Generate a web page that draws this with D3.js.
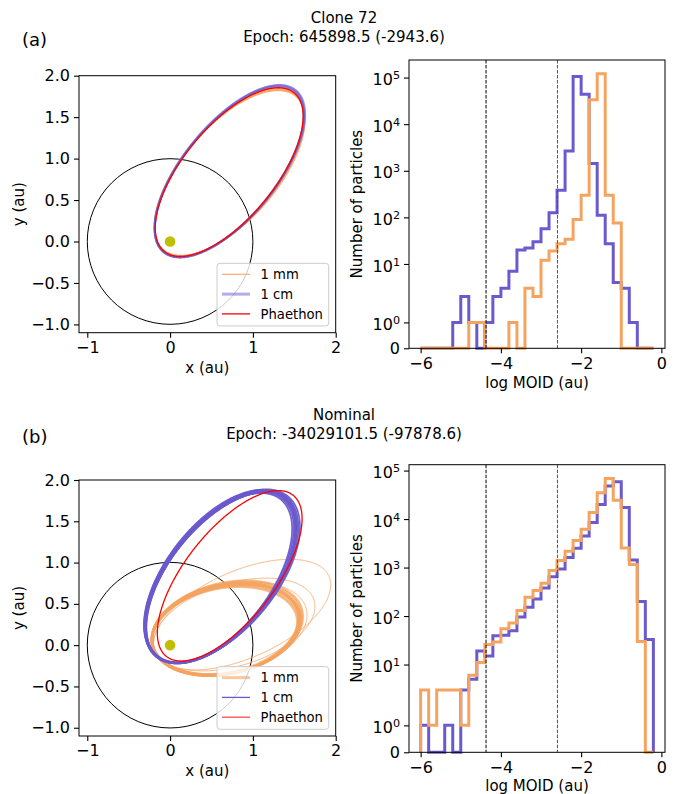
<!DOCTYPE html>
<html><head><meta charset="utf-8">
<script src="https://cdn.jsdelivr.net/npm/d3@7"></script>
<style>
body{margin:0;background:#fff}
svg{display:block}
text{font-family:"DejaVu Sans",sans-serif;fill:#000}
</style>
</head><body>
<svg id="fig" width="681" height="794"></svg>
<script>
// ---------------- DATA ----------------
const panelLabels = ["(a)", "(b)"];
const titleLine1 = ["Clone 72", "Nominal"];
const titleLine2 = ["Epoch: 645898.5 (-2943.6)", "Epoch: -34029101.5 (-97878.6)"];
const seriesNames = ["1 mm", "1 cm", "Phaethon"];

// histogram bin edges (log MOID, au)
const binEdges = [-6.0,-5.8,-5.6,-5.4,-5.2,-5.0,-4.8,-4.6,-4.4,-4.2,-4.0,-3.8,-3.6,-3.4,-3.2,-3.0,-2.8,-2.6,-2.4,-2.2,-2.0,-1.8,-1.6,-1.4,-1.2,-1.0,-0.8,-0.6,-0.4,-0.2];
// counts per bin
const topCounts1mm = [0,0,0,0,0,0,1,1,0,0,0,1,0,3,2,12,19,27,34,90,300,33600,121000,300,76,0,0,0,0];
const topCounts1cm = [0,0,0,0,1,2,1,0,1,2,3,7,20,22,30,57,125,383,2667,106000,44000,1426,111,27,4,3,1,0,0];
const botCounts1mm = [3,1,3,3,3,1,6,11,26,29,55,72,130,245,336,474,865,1390,2160,3600,6200,13600,35000,69000,24500,2520,1150,30,0];
const botCounts1cm = [1,0,0,1,0,3,5,19,15,39,40,50,96,152,226,380,650,936,1620,2500,4500,8500,20000,48000,59000,17300,1430,200,33];
// reference lines (log au): Earth radius, Earth-Moon distance
const refLines = [-4.37, -2.59];

const histXTicks = [-6, -4, -2, 0];
const histYTicks = [0, 1, 10, 100, 1000, 10000, 100000];
const orbitXTicks = [-1, 0, 1, 2];
const orbitYTicks = [-1.0, -0.5, 0.0, 0.5, 1.0, 1.5, 2.0];

// orbit projections: [centre x, centre y, semi-major, semi-minor, tilt deg]
const topOrbits1mm = [
  [0.714,0.833,1.232,0.556,50.0],[0.716,0.830,1.228,0.560,49.6],[0.718,0.828,1.225,0.565,49.2],
  [0.712,0.835,1.236,0.553,50.3],[0.720,0.826,1.222,0.568,48.9]];
const topOrbits1cm = [
  [0.716,0.842,1.250,0.556,50.8],[0.718,0.846,1.258,0.560,50.9],[0.714,0.840,1.245,0.553,50.6],
  [0.720,0.848,1.262,0.563,50.7]];
const topPhaethon = [[0.714,0.837,1.237,0.551,50.6]];

const botOrbits1mm = [
  [0.675,0.19,0.908,0.533,12.0],[0.665,0.18,0.895,0.52,11.0],[0.685,0.20,0.92,0.545,13.0],
  [0.67,0.195,0.90,0.54,12.5],[0.68,0.185,0.915,0.525,11.5],[0.66,0.175,0.885,0.515,10.5],
  [0.69,0.205,0.93,0.55,13.5],[0.672,0.188,0.905,0.53,12.2],[0.678,0.192,0.91,0.538,11.8],
  [0.668,0.20,0.90,0.528,12.8]];
const botOrbits1mmOuter = [
  [0.87,0.37,1.147,0.527,23.9],[0.775,0.25,1.008,0.50,17.0],[0.72,0.20,0.955,0.53,14.5]];
const botOrbits1cm = [
  [0.610,0.825,1.230,0.630,51.5],[0.600,0.818,1.216,0.616,52.0],[0.620,0.832,1.244,0.644,51.0],
  [0.604,0.828,1.226,0.638,52.3],[0.616,0.820,1.236,0.622,50.8],[0.594,0.812,1.208,0.611,52.6],
  [0.626,0.838,1.251,0.651,50.4],[0.610,0.825,1.222,0.636,51.8],[0.608,0.822,1.238,0.626,51.3],
  [0.618,0.826,1.226,0.618,51.2],[0.602,0.830,1.234,0.646,52.1],[0.614,0.828,1.242,0.632,51.6]];
const botPhaethon = [[0.72,0.84,1.24,0.54,52.0]];

const earthOrbitRadius = 1.0;
const sunPos = [0, 0];

// ---------------- STYLE / LAYOUT ----------------
const C1MM = "#f4a460", C1CM = "#6a5acd", CPH = "#ff0000";
const FS = 15, FS_TICK = 16, FS_LEG = 13.2;
const TICK = 5;

const svg = d3.select("#fig");

const panels = [
  {orbit:{x0:79,x1:335.7,y0:75.7,y1:332.7}, hist:{x0:409,x1:665,y0:60,y1:348.3},
   titleY:[23,42], labelY:46,
   hist1mm: topCounts1mm, hist1cm: topCounts1cm,
   orbits: [
     {data: topOrbits1mm, color:C1MM, w:1.1, op:0.85},
     {data: topOrbits1cm, color:C1CM, w:2.0, op:0.55},
     {data: topPhaethon, color:CPH, w:1.3, op:1}],
   legend:[{color:C1MM,w:1.2,op:0.9},{color:C1CM,w:3,op:0.5},{color:CPH,w:1.3,op:1}]},
  {orbit:{x0:79,x1:335.7,y0:480,y1:736}, hist:{x0:409,x1:665,y0:464.7,y1:752.3},
   titleY:[420,439], labelY:443,
   hist1mm: botCounts1mm, hist1cm: botCounts1cm,
   orbits: [
     {data: botOrbits1mm, color:C1MM, w:2.4, op:0.7},
     {data: botOrbits1mmOuter, color:C1MM, w:1.0, op:0.8},
     {data: botOrbits1cm, color:C1CM, w:1.7, op:0.95},
     {data: botPhaethon, color:CPH, w:1.3, op:1}],
   legend:[{color:C1MM,w:3,op:0.6},{color:C1CM,w:1.3,op:1},{color:CPH,w:1.3,op:0.7}]}
];

// symlog transform (linthresh 2, linscale 1, base 10)
const LINTHRESH = 2, LINADJ = 1 / (1 - 1 / 10);
const T = v => v <= LINTHRESH ? v * LINADJ / LINTHRESH : LINADJ + Math.log10(v / LINTHRESH);
function makeSymlog(lin) {
  const s = v => lin(T(v));
  s.copy = () => makeSymlog(lin.copy());
  s.range = (...a) => a.length ? (lin.range(...a), s) : lin.range();
  s.domain = () => lin.domain();
  return s;
}

function styleAxis(g) {
  g.select(".domain").remove();
  g.selectAll(".tick line").attr("stroke", "#000").attr("stroke-width", 1.1);
  g.attr("font-family", "DejaVu Sans").attr("font-size", FS_TICK);
  g.selectAll(".tick text").attr("fill", "#000");
}

function ellipsePoints(p) {
  const [cx, cy, A, B, deg] = p;
  const th = deg * Math.PI / 180, pts = [];
  for (let k = 0; k <= 720; k++) {
    const t = k / 720 * 2 * Math.PI;
    pts.push([cx + A * Math.cos(t) * Math.cos(th) - B * Math.sin(t) * Math.sin(th),
              cy + A * Math.cos(t) * Math.sin(th) + B * Math.sin(t) * Math.cos(th)]);
  }
  return pts;
}

panels.forEach((P, pi) => {
  // titles
  svg.append("text").attr("x", 344).attr("y", P.titleY[0]).attr("text-anchor", "middle")
    .attr("font-size", FS).text(titleLine1[pi]);
  svg.append("text").attr("x", 344).attr("y", P.titleY[1]).attr("text-anchor", "middle")
    .attr("font-size", FS).text(titleLine2[pi]);
  svg.append("text").attr("x", 22).attr("y", P.labelY).attr("font-size", 18).text(panelLabels[pi]);

  // ---------- orbit panel ----------
  const ob = P.orbit;
  const xs = d3.scaleLinear().domain([-1.1, 2.0]).range([ob.x0, ob.x1]);
  const ys = d3.scaleLinear().domain([-1.1, 2.0]).range([ob.y1, ob.y0]);
  const clipId = "clip" + pi;
  svg.append("clipPath").attr("id", clipId).append("rect")
    .attr("x", ob.x0).attr("y", ob.y0).attr("width", ob.x1 - ob.x0).attr("height", ob.y1 - ob.y0);
  const og = svg.append("g").attr("clip-path", `url(#${clipId})`);
  const line = d3.line().x(d => xs(d[0])).y(d => ys(d[1]));

  // Earth orbit
  og.append("circle").attr("cx", xs(sunPos[0])).attr("cy", ys(sunPos[1]))
    .attr("r", xs(earthOrbitRadius) - xs(0)).attr("fill", "none").attr("stroke", "#000").attr("stroke-width", 1);

  P.orbits.forEach(s => {
    og.selectAll(null).data(s.data).enter().append("path")
      .attr("d", d => line(ellipsePoints(d)))
      .attr("fill", "none").attr("stroke", s.color).attr("stroke-width", s.w).attr("stroke-opacity", s.op);
  });
  og.append("circle").attr("cx", xs(sunPos[0])).attr("cy", ys(sunPos[1])).attr("r", 5.3).attr("fill", "#bfbf00");

  // legend
  const lg = svg.append("g").attr("transform", `translate(${ob.x1 - 118.7},${ob.y1 - 69.4})`);
  lg.append("rect").attr("x", 0).attr("y", 0).attr("width", 111.7).attr("height", 62.7).attr("rx", 3)
    .attr("fill", "#fff").attr("fill-opacity", 0.8).attr("stroke", "#cccccc").attr("stroke-width", 1);
  seriesNames.forEach((nm, k) => {
    const yy = 11 + k * 19.8;
    lg.append("line").attr("x1", 5).attr("x2", 33).attr("y1", yy).attr("y2", yy)
      .attr("stroke", P.legend[k].color).attr("stroke-width", P.legend[k].w).attr("stroke-opacity", P.legend[k].op);
    lg.append("text").attr("x", 43.5).attr("y", yy + 4.8).attr("font-size", FS_LEG).text(nm);
  });

  // frame
  svg.append("rect").attr("x", ob.x0).attr("y", ob.y0).attr("width", ob.x1 - ob.x0).attr("height", ob.y1 - ob.y0)
    .attr("fill", "none").attr("stroke", "#000").attr("stroke-width", 1);

  // axes
  svg.append("g").attr("transform", `translate(0,${ob.y1})`)
    .call(d3.axisBottom(xs).tickValues(orbitXTicks).tickFormat(d3.format("d")).tickSize(TICK).tickPadding(4))
    .call(styleAxis);
  svg.append("g").attr("transform", `translate(${ob.x0},0)`)
    .call(d3.axisLeft(ys).tickValues(orbitYTicks).tickFormat(d3.format(".1f")).tickSize(TICK).tickPadding(4))
    .call(styleAxis);
  svg.append("text").attr("x", (ob.x0 + ob.x1) / 2).attr("y", ob.y1 + 40).attr("text-anchor", "middle")
    .attr("font-size", FS).text("x (au)");
  svg.append("text").attr("transform", `translate(24,${(ob.y0 + ob.y1) / 2}) rotate(-90)`)
    .attr("text-anchor", "middle").attr("font-size", FS).text("y (au)");

  // ---------- histogram panel ----------
  const hb = P.hist;
  const hx = d3.scaleLinear().domain([-6.29, 0.09]).range([hb.x0, hb.x1]);
  const maxC = d3.max(P.hist1mm.concat(P.hist1cm));
  const hyLin = d3.scaleLinear().domain([0, 1.05 * T(maxC)]).range([hb.y1, hb.y0]);
  const hy = makeSymlog(hyLin);

  const hclip = "hclip" + pi;
  svg.append("clipPath").attr("id", hclip).append("rect")
    .attr("x", hb.x0).attr("y", hb.y0 - 2).attr("width", hb.x1 - hb.x0).attr("height", hb.y1 - hb.y0 + 4);
  const hg = svg.append("g").attr("clip-path", `url(#${hclip})`);

  const stepLine = d3.line().x(d => hx(d[0])).y(d => hy(d[1]));
  function stepPts(counts) {
    const pts = [[binEdges[0], 0]];
    counts.forEach((c, i) => { pts.push([binEdges[i], c]); pts.push([binEdges[i + 1], c]); });
    pts.push([binEdges[counts.length], 0]);
    return pts;
  }
  hg.append("path").attr("d", stepLine(stepPts(P.hist1cm))).attr("fill", "none")
    .attr("stroke", C1CM).attr("stroke-width", 3).attr("stroke-linejoin", "miter");
  hg.append("path").attr("d", stepLine(stepPts(P.hist1mm))).attr("fill", "none")
    .attr("stroke", C1MM).attr("stroke-width", 3).attr("stroke-linejoin", "miter");

  refLines.forEach((v, k) => {
    svg.append("line").attr("x1", hx(v)).attr("x2", hx(v)).attr("y1", hb.y0).attr("y2", hb.y1)
      .attr("stroke", k === 0 ? "#000" : "#555").attr("stroke-width", 1).attr("stroke-dasharray", "3.5,1.5");
  });

  svg.append("rect").attr("x", hb.x0).attr("y", hb.y0).attr("width", hb.x1 - hb.x0).attr("height", hb.y1 - hb.y0)
    .attr("fill", "none").attr("stroke", "#000").attr("stroke-width", 1);

  svg.append("g").attr("transform", `translate(0,${hb.y1})`)
    .call(d3.axisBottom(hx).tickValues(histXTicks).tickFormat(d3.format("d")).tickSize(TICK).tickPadding(4))
    .call(styleAxis);
  const yAx = svg.append("g").attr("transform", `translate(${hb.x0},0)`)
    .call(d3.axisLeft(hy).tickValues(histYTicks).tickFormat(() => "").tickSize(TICK).tickPadding(4))
    .call(styleAxis);
  yAx.selectAll(".tick text").each(function(d) {
    const t = d3.select(this);
    if (d === 0) { t.text("0"); return; }
    const e = Math.round(Math.log10(d));
    t.attr("dy", "0.45em");
    t.append("tspan").text("10");
    t.append("tspan").attr("font-size", FS_TICK * 0.7).attr("dy", "-0.55em").text(e);
  });
  svg.append("text").attr("x", (hb.x0 + hb.x1) / 2).attr("y", Math.min(hb.y1 + 40, 791)).attr("text-anchor", "middle")
    .attr("font-size", FS).text("log MOID (au)");
  svg.append("text").attr("transform", `translate(362,${(hb.y0 + hb.y1) / 2}) rotate(-90)`)
    .attr("text-anchor", "middle").attr("font-size", FS).text("Number of particles");
});
</script>
</body></html>
